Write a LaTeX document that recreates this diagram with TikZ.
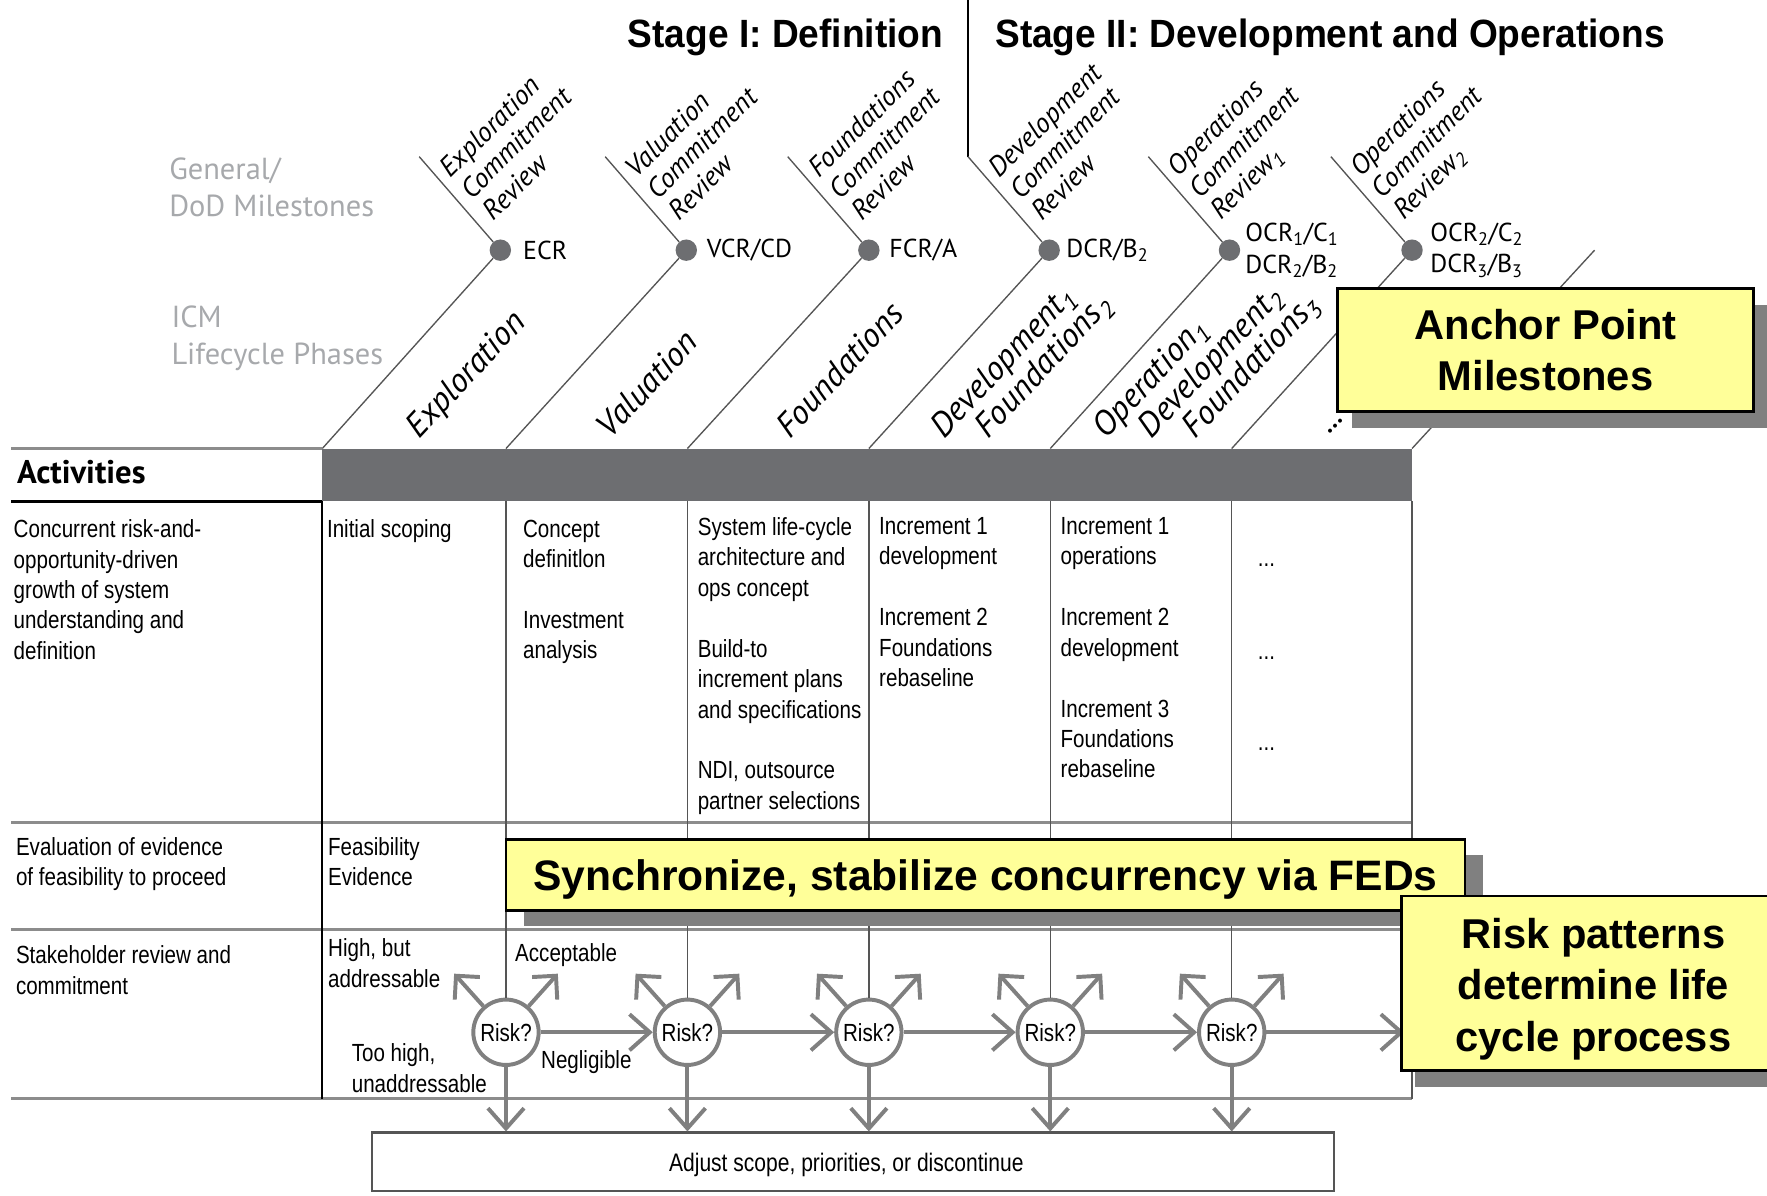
\documentclass[tikz,border=0pt]{standalone}
\usepackage{fontspec}
\usetikzlibrary{arrows.meta,calc,shadows}

\newfontfamily\humfont{PT Sans}
\newfontfamily\narrowfont{Liberation Sans}[FakeStretch=0.83]
\newfontfamily\headfont{Liberation Sans}[FakeStretch=0.94]
\newfontfamily\calloutfont{Liberation Sans}
\newcommand\lo[1]{\textsubscript{#1}}

\definecolor{bargray}{HTML}{6D6E71}
\definecolor{softgray}{HTML}{A7A9AC}
\definecolor{riskgray}{HTML}{808080}
\definecolor{notey}{HTML}{FFFF99}
\definecolor{shade}{HTML}{808080}
\definecolor{rulegray}{HTML}{555555}
\definecolor{rowgray}{HTML}{8C8C8C}

\tikzset{
  stagetitle/.style={font=\headfont\bfseries\fontsize{35}{40}\selectfont, inner sep=0pt, anchor=base west},
  softlabel/.style={font=\humfont\fontsize{27}{33}\selectfont, text=softgray, align=left, inner sep=0pt, anchor=north west},
  review/.style={font=\humfont\itshape\fontsize{24.5}{27}\selectfont, rotate=45, align=left, inner sep=0pt, anchor=west},
  phase/.style={font=\humfont\itshape\fontsize{30}{32}\selectfont, rotate=47, inner sep=0pt, anchor=base west},
  milestone/.style={circle, fill=bargray, minimum size=19pt, inner sep=0pt},
  mslabel/.style={font=\humfont\fontsize{23}{28}\selectfont, align=left, inner sep=0pt, anchor=west},
  diag/.style={draw=rulegray, line width=1.2pt},
  cell/.style={font=\narrowfont\fontsize{22}{27}\selectfont, align=left, inner sep=0pt, anchor=north west},
  dots/.style={font=\narrowfont\fontsize{22}{27}\selectfont, inner sep=0pt, anchor=base west},
  rowline/.style={draw=rowgray, line width=2.5pt},
  colline/.style={draw=rulegray, line width=1.2pt},
  riskbox/.style={circle, draw=riskgray, line width=3.5pt, minimum size=58pt, inner sep=0pt,
    font=\narrowfont\fontsize{22}{26}\selectfont},
  flow/.style={draw=riskgray, line width=3.5pt, -{Straight Barb[length=18pt,width=32pt]}},
  branch/.style={draw=riskgray, line width=3.5pt, -{Straight Barb[length=15pt,width=30pt]}},
  callout/.style={draw=black, line width=2.5pt, fill=notey, inner sep=0pt, align=center,
    font=\calloutfont\bfseries\fontsize{37}{45.5}\selectfont},
}

\begin{document}
\begin{tikzpicture}[x=1pt,y=-1pt]
\useasboundingbox (0,0) rectangle (1568,1061);

% ---------- stage titles ----------
\node[stagetitle] (stage1) at (557,42) {Stage I: Definition};
\node[stagetitle] (stage2) at (883,42) {Stage II: Development and Operations};

% ---------- left-hand captions ----------
\node[softlabel] (milestonecap) at (150,140) {General/\\DoD Milestones};
\node[softlabel] (phasecap) at (152,271) {ICM\\Lifecycle Phases};

% ---------- column tops of the phase table ----------
\coordinate (c0) at (286,398);
\coordinate (c1) at (449,398);
\coordinate (c2) at (610,398);
\coordinate (c3) at (771,398);
\coordinate (c4) at (932,398);
\coordinate (c5) at (1093,398);
\coordinate (c6) at (1253,398);

% ---------- milestone dots ----------
\node[milestone] (m1) at (444,222) {};
\node[milestone] (m2) at (609,222) {};
\node[milestone] (m3) at (771,222) {};
\node[milestone] (m4) at (931,222) {};
\node[milestone] (m5) at (1091,222) {};
\node[milestone] (m6) at (1253,222) {};
\coordinate (m7) at (1415,222);

\foreach \i in {1,...,6} {
  \coordinate (u\i) at ($(m\i)+(-72,-83)$);
}
\coordinate (septop) at (u4 |- 0,0);

% stage separator
\draw[black, line width=1.5pt] (septop) -- (u4);

% chevron lines
\draw[diag] (u1) -- (m1) -- (c0);
\draw[diag] (u2) -- (m2) -- (c1);
\draw[diag] (u3) -- (m3) -- (c2);
\draw[diag] (u4) -- (m4) -- (c3);
\draw[diag] (u5) -- (m5) -- (c4);
\draw[diag] (u6) -- (m6) -- (c5);
\draw[diag] (m7) -- (c6);

% review names
\node[review] (rv1) at ($(m1)+(-31,-50)$) {Exploration\\Commitment\\Review};
\node[review] (rv2) at ($(m2)+(-31,-50)$) {Valuation\\Commitment\\Review};
\node[review] (rv3) at ($(m3)+(-31,-50)$) {Foundations\\Commitment\\Review};
\node[review] (rv4) at ($(m4)+(-31,-50)$) {Development\\Commitment\\Review};
\node[review] (rv5) at ($(m5)+(-31,-50)$) {Operations\\Commitment\\Review\lo{1}};
\node[review] (rv6) at ($(m6)+(-31,-50)$) {Operations\\Commitment\\Review\lo{2}};

% milestone abbreviations
\node[mslabel] (ml1) at ($(m1)+(20,0)$) {ECR};
\node[mslabel] (ml2) at ($(m2)+(18,0)$) {VCR/CD};
\node[mslabel] (ml3) at ($(m3)+(18,0)$) {FCR/A};
\node[mslabel] (ml4) at ($(m4)+(15,0)$) {DCR/B\lo{2}};
\node[mslabel] (ml5) at ($(m5)+(14,0)$) {OCR\lo{1}/C\lo{1}\\DCR\lo{2}/B\lo{2}};
\node[mslabel] (ml6) at ($(m6)+(16,0)$) {OCR\lo{2}/C\lo{2}\\DCR\lo{3}/B\lo{3}};

% phase names
\node[phase] (ph1) at (372,390) {Exploration};
\node[phase] (ph2) at (542,390) {Valuation};
\node[phase] (ph3) at (701,390) {Foundations};
\node[phase] (ph4a) at (838,390) {Development\lo{1}};
\node[phase] (ph4b) at (877,390) {Foundations\lo{2}};
\node[phase] (ph5a) at (982,390) {Operation\lo{1}};
\node[phase] (ph5b) at (1022,390) {Development\lo{2}};
\node[phase] (ph5c) at (1061,390) {Foundations\lo{3}};
\node[phase] (ph6) at (1180,386) {...};

% ---------- activities table ----------
\fill[bargray] (c0) rectangle (1253,445);
\draw[rowline] (10,398) -- (c0);
\draw[black, line width=3.5pt] (10,445) -- (286,445);
\node[font=\humfont\bfseries\fontsize{29}{32}\selectfont, inner sep=0pt, anchor=base west] (acthead) at (15,429) {Activities};

\draw[rowline] (10,730) -- (1253,730);
\draw[rowline] (10,825) -- (1253,825);
\draw[rowline] (10,975) -- (1253,975);

% risk decision points
\node[riskbox] (r1) at (449,916) {Risk?};
\node[riskbox] (r2) at (610,916) {Risk?};
\node[riskbox] (r3) at (771,916) {Risk?};
\node[riskbox] (r4) at (932,916) {Risk?};
\node[riskbox] (r5) at (1093,916) {Risk?};

% column rules
\draw[black, line width=1.5pt] (286,445) -- (286,975);
\draw[colline] (449,445) -- (r1);
\draw[colline] (610,445) -- (r2);
\draw[colline] (771,445) -- (r3);
\draw[colline] (932,445) -- (r4);
\draw[colline] (1093,445) -- (r5);
\draw[colline] (1253,445) -- (1253,975);

% row 1 cells
\node[cell] (a0) at (12,461) {Concurrent risk-and-\\opportunity-driven\\growth of system\\understanding and\\definition};
\node[cell] (a1) at (290,461) {Initial scoping};
\node[cell] (a2) at (464,461) {Concept\\definitlon\\[27pt]Investment\\analysis};
\node[cell] (a3) at (619,459) {System life-cycle\\architecture and\\ops concept\\[27pt]Build-to\\increment plans\\and specifications\\[27pt]NDI, outsource\\partner selections};
\node[cell] (a4) at (780,459) {Increment 1\\development\\[27pt]Increment 2\\Foundations\\rebaseline};
\node[cell] (a5) at (941,459) {Increment 1\\operations\\[27pt]Increment 2\\development\\[27pt]Increment 3\\Foundations\\rebaseline};
\node[dots] (a6a) at (1116,503) {...};
\node[dots] (a6b) at (1116,585) {...};
\node[dots] (a6c) at (1116,666) {...};

% row 2 cells
\node[cell] (b0) at (14,743) {Evaluation of evidence\\of feasibility to proceed};
\node[cell] (b1) at (291,743) {Feasibility\\Evidence};

% row 3 cells
\node[cell] (s0) at (14,839) {Stakeholder review and\\commitment};
\node[cell] (s1) at (291,833) {High, but\\addressable};
\node[cell] (s2) at (312,926) {Too high,\\unaddressable};
\node[cell] (s3) at (457,837) {Acceptable};
\node[cell] (s4) at (480,932) {Negligible};

% fallback box
\node[draw=rulegray, line width=2pt, minimum width=854pt, minimum height=52pt, inner sep=0pt,
      font=\narrowfont\fontsize{22.5}{26}\selectfont] (adj) at (757,1031)
      {\rule{0pt}{22pt}Adjust scope, priorities, or discontinue\hspace*{12pt}};

% risk branches
\foreach \i in {1,...,5} {
  \coordinate (tl\i) at ($(r\i)+(-46,-52)$);
  \coordinate (tr\i) at ($(r\i)+(46,-52)$);
  \draw[branch] (r\i.131) -- (tl\i);
  \draw[branch] (r\i.49) -- (tr\i);
  \draw[flow] (r\i.south) -- (r\i.south |- adj.north);
}
\coordinate (flowend) at (1246,916);
\draw[flow] (r1) -- (r2);
\draw[flow] (r2) -- (r3);
\draw[flow] (r3) -- (r4);
\draw[flow] (r4) -- (r5);
\draw[flow] (r5) -- (flowend);

% ---------- callouts ----------
\node[callout, minimum width=369pt, minimum height=109pt,
      drop shadow={shadow xshift=13pt, shadow yshift=-15pt, fill=shade, opacity=1}]
      (apm) at (1371.5,310.5) {Anchor Point\\Milestones};
\node[callout, minimum width=851pt, minimum height=63pt, font=\calloutfont\bfseries\fontsize{37.8}{45}\selectfont,
      drop shadow={shadow xshift=16pt, shadow yshift=-14pt, fill=shade, opacity=1}]
      (sync) at (874.5,776.5) {\rule{0pt}{35pt}Synchronize, stabilize concurrency via FEDs};
\node[callout, minimum width=340pt, minimum height=155pt,
      drop shadow={shadow xshift=12pt, shadow yshift=-15pt, fill=shade, opacity=1}]
      (rpat) at (1414,872.5) {\rule{0pt}{37pt}Risk patterns\\determine life\\cycle process};
\end{tikzpicture}
\end{document}
